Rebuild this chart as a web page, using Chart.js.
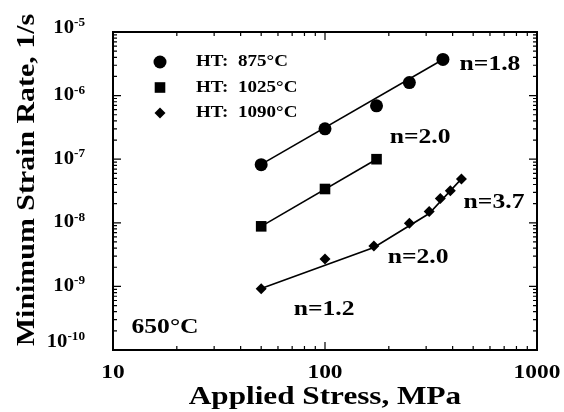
<!DOCTYPE html>
<html>
<head>
<meta charset="utf-8">
<script src="https://cdn.jsdelivr.net/npm/chart.js@4/dist/chart.umd.min.js"></script>
<style>
    body { margin: 0; background: #fff; }
    #chartBox { width: 564px; height: 412px; }
</style>
</head>
<body>
<div id="chartBox"><canvas id="myChart" width="564" height="412"></canvas></div>
<script>
const stress875 = [50, 100, 175, 250, 360];
const rate875 = [8.2e-8, 3.0e-7, 6.9e-7, 1.6e-6, 3.7e-6];
const stress1025 = [50, 100, 175];
const rate1025 = [8.8e-9, 3.4e-8, 1.0e-7];
const stress1090 = [50, 100, 170, 250, 310, 350, 390, 440];
const rate1090 = [9.2e-10, 2.7e-9, 4.3e-9, 9.8e-9, 1.5e-8, 2.4e-8, 3.2e-8, 4.9e-8];

// fitted power-law lines
const fitStress875 = [50, 360];
const fitRate875 = [8.3e-8, 3.7e-6];
const fitStress1025 = [50, 175];
const fitRate1025 = [8.8e-9, 1.0e-7];
const fitStress1090 = [50, 170, 310, 440];
const fitRate1090 = [9.3e-10, 4.1e-9, 1.4e-8, 4.9e-8];

const seriesNames = ['HT:  875°C', 'HT:  1025°C', 'HT:  1090°C'];
const xTickLabels = ['10', '100', '1000'];
const yTickExponents = ['-5', '-6', '-7', '-8', '-9', '-10'];

// slope labels: text and anchor in data units
const noteTexts = ['n=1.8', 'n=2.0', 'n=3.7', 'n=2.0', 'n=1.2', '650°C'];
const noteX = [600, 281, 627, 275, 99, 17.6];
const noteY = [3.0e-6, 2.15e-7, 2.05e-8, 2.8e-9, 4.3e-10, 2.2e-10];

const FONT = '"Liberation Serif", "Times New Roman", serif';

function toPoints(xs, ys) {
    return xs.map((x, i) => ({ x: x, y: ys[i] }));
}

function drawText(ctx, s, x, y, size, align, sx) {
    ctx.save();
    ctx.font = 'bold ' + size + 'px ' + FONT;
    const w = ctx.measureText(s).width * sx;
    let x0 = x;
    if (align === 'center') x0 = x - w / 2;
    else if (align === 'right') x0 = x - w;
    ctx.translate(x0, y);
    ctx.scale(sx, 1);
    ctx.textAlign = 'left';
    ctx.textBaseline = 'middle';
    ctx.fillStyle = '#000';
    ctx.fillText(s, 0, 0);
    ctx.restore();
    return w;
}

function drawMarker(ctx, style, x, y, r) {
    ctx.beginPath();
    if (style === 'circle') {
        ctx.arc(x, y, r, 0, Math.PI * 2);
    } else if (style === 'rect') {
        const s = r * Math.SQRT1_2;
        ctx.rect(x - s, y - s, 2 * s, 2 * s);
    } else {
        ctx.moveTo(x, y - r);
        ctx.lineTo(x + r, y);
        ctx.lineTo(x, y + r);
        ctx.lineTo(x - r, y);
        ctx.closePath();
    }
    ctx.fillStyle = '#000';
    ctx.fill();
}

const decorations = {
    id: 'decorations',
    afterDraw(chart) {
        const ctx = chart.ctx;
        const a = chart.chartArea;
        const xs = chart.scales.x;
        const ys = chart.scales.y;
        ctx.save();
        ctx.strokeStyle = '#000';

        // inward tick marks on all four sides
        ctx.lineWidth = 1.2;
        for (let d = 1; d < 3; d++) {
            for (let m = 1; m < 10; m++) {
                const v = m * Math.pow(10, d);
                const px = xs.getPixelForValue(v);
                const len = m === 1 ? 8 : 4;
                ctx.beginPath();
                ctx.moveTo(px, a.bottom); ctx.lineTo(px, a.bottom - len);
                ctx.moveTo(px, a.top); ctx.lineTo(px, a.top + len);
                ctx.stroke();
            }
        }
        for (let d = -10; d < -5; d++) {
            for (let m = 1; m < 10; m++) {
                const v = m * Math.pow(10, d);
                const py = ys.getPixelForValue(v);
                const len = m === 1 ? 8 : 4;
                ctx.beginPath();
                ctx.moveTo(a.left, py); ctx.lineTo(a.left + len, py);
                ctx.moveTo(a.right, py); ctx.lineTo(a.right - len, py);
                ctx.stroke();
            }
        }

        // frame
        ctx.lineWidth = 2;
        ctx.strokeRect(a.left, a.top, a.right - a.left, a.bottom - a.top);

        // x tick labels
        xTickLabels.forEach(lbl => {
            const px = xs.getPixelForValue(Number(lbl));
            drawText(ctx, lbl, px, a.bottom + 23, 18, 'center', 1.3);
        });

        // y tick labels as 10^n
        yTickExponents.forEach((e, i) => {
            const v = Math.pow(10, Number(e));
            let py = ys.getPixelForValue(v);
            if (i === 0) py -= 4;
            if (i === yTickExponents.length - 1) py -= 8;
            ctx.font = 'bold 12px ' + FONT;
            const ew = ctx.measureText(e).width * 1.1;
            const right = 85;
            drawText(ctx, e, right - ew, py - 5, 12, 'left', 1.1);
            drawText(ctx, '10', right - ew, py, 18, 'right', 1.15);
        });

        // axis titles
        drawText(ctx, 'Applied Stress, MPa', (a.left + a.right) / 2, 397, 26, 'center', 1.2);
        ctx.save();
        ctx.translate(27, 180);
        ctx.rotate(-Math.PI / 2);
        drawText(ctx, 'Minimum Strain Rate, 1/s', 0, 0, 26, 'center', 1.15);
        ctx.restore();

        // legend
        const styles = ['circle', 'rect', 'rectRot'];
        const sizes = [6.5, 7.5, 5.5];
        seriesNames.forEach((name, i) => {
            const y = a.top + 30 + i * 25.5;
            drawMarker(ctx, styles[i], a.left + 47, y, sizes[i]);
            drawText(ctx, name, a.left + 83, y, 17, 'left', 1.12);
        });

        // slope notes
        noteTexts.forEach((t, i) => {
            const px = xs.getPixelForValue(noteX[i]);
            const py = ys.getPixelForValue(noteY[i]);
            drawText(ctx, t, px, py, 20, 'center', 1.28);
        });

        ctx.restore();
    }
};

function createChart() {
    const ctx = document.getElementById('myChart').getContext('2d');
    const line = (xs, ys) => ({
        data: toPoints(xs, ys),
        showLine: true,
        borderColor: '#000',
        borderWidth: 1.6,
        pointRadius: 0,
        fill: false
    });
    const marks = (xs, ys, style, r) => ({
        data: toPoints(xs, ys),
        showLine: false,
        pointStyle: style,
        pointRadius: r,
        backgroundColor: '#000',
        borderColor: '#000',
        borderWidth: 0
    });
    return new Chart(ctx, {
        type: 'scatter',
        data: {
            datasets: [
                line(fitStress875, fitRate875),
                line(fitStress1025, fitRate1025),
                line(fitStress1090, fitRate1090),
                marks(stress875, rate875, 'circle', 6.5),
                marks(stress1025, rate1025, 'rect', 7.5),
                marks(stress1090, rate1090, 'rectRot', 5.5)
            ]
        },
        options: {
            responsive: false,
            animation: false,
            layout: {
                padding: { left: 113, right: 27, top: 32, bottom: 62 }
            },
            plugins: {
                legend: { display: false },
                tooltip: { enabled: false }
            },
            scales: {
                x: {
                    type: 'logarithmic',
                    min: 10,
                    max: 1000,
                    display: false
                },
                y: {
                    type: 'logarithmic',
                    min: 1e-10,
                    max: 1e-5,
                    display: false
                }
            }
        },
        plugins: [decorations]
    });
}

let chart = createChart();
</script>
</body>
</html>
